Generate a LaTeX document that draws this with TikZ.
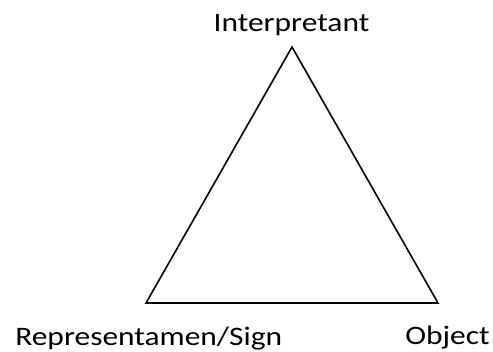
\documentclass[tikz,border=0pt]{standalone}
\usepackage{fontspec}
\setmainfont{Carlito}
\usetikzlibrary{positioning}

\newcommand{\widetext}[1]{\scalebox{1.18}[1]{#1}}

\begin{document}
\begin{tikzpicture}[
    x=0.75pt, y=0.75pt,
    sidelabel/.style={inner sep=0pt, font=\fontsize{20}{24}\selectfont},
    edge/.style={line width=1.2pt, line join=miter},
]
\useasboundingbox (0,0) rectangle (493,351);

% corners of the triangle
\coordinate (top) at (292,304);
\coordinate (left) at (146,48);
\coordinate (right) at (438,48);

\node[sidelabel, anchor=base] (interp) at (291.5,319) {\widetext{Interpretant}};
\node[sidelabel, anchor=base west] (sign) at (15,6) {\widetext{Representamen/Sign}};
\node[sidelabel, anchor=base west] (object) at (405,7) {\widetext{Object}};

\draw[edge] (top) -- (left) -- (right) -- cycle;

\end{tikzpicture}
\end{document}
